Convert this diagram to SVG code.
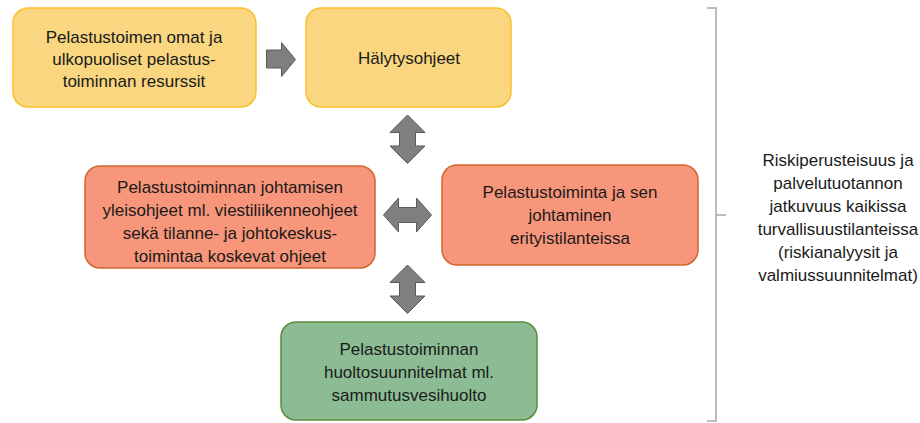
<svg xmlns="http://www.w3.org/2000/svg" width="920" height="423" viewBox="0 0 920 423">
<style>
text{font-family:"Liberation Sans",Arial,sans-serif;font-size:17px;fill:#1a1a1a;text-anchor:middle}
.y{fill:#F9D67F;stroke:#FBC02D;stroke-width:1.5}
.o{fill:#F7967A;stroke:#D0672E;stroke-width:1.5}
.g{fill:#8CBC94;stroke:#5E8A3C;stroke-width:1.5}
.ar{fill:#7F7F7F;stroke:#5A5A5A;stroke-width:1}
.br{fill:none;stroke:#A6A6A6;stroke-width:1.5}
</style>
<rect width="920" height="423" fill="#fff"/>
<g id="n1">
<rect class="y" x="13" y="8" width="243" height="99" rx="15"/>
<text x="134" y="43">Pelastustoimen omat ja</text>
<text x="134" y="65">ulkopuoliset pelastus-</text>
<text x="134" y="87">toiminnan resurssit</text>
</g>
<g id="n2">
<rect class="y" x="306" y="8" width="205" height="99" rx="15"/>
<text x="409" y="64">Hälytysohjeet</text>
</g>
<g id="n3">
<rect class="o" x="85" y="166" width="290" height="102" rx="15"/>
<text x="230" y="193">Pelastustoiminnan johtamisen</text>
<text x="230" y="216">yleisohjeet ml. viestiliikenneohjeet</text>
<text x="230" y="239">sekä tilanne- ja johtokeskus-</text>
<text x="230" y="262">toimintaa koskevat ohjeet</text>
</g>
<g id="n4">
<rect class="o" x="442" y="165" width="256" height="100" rx="15"/>
<text x="570" y="198">Pelastustoiminta ja sen</text>
<text x="570" y="221">johtaminen</text>
<text x="570" y="244">erityistilanteissa</text>
</g>
<g id="n5">
<rect class="g" x="281" y="322" width="256" height="98" rx="15"/>
<text x="409" y="355">Pelastustoiminnan</text>
<text x="409" y="378">huoltosuunnitelmat ml.</text>
<text x="409" y="401">sammutusvesihuolto</text>
</g>
<g id="n6">
<text x="838" y="166">Riskiperusteisuus ja</text>
<text x="838" y="189">palvelutuotannon</text>
<text x="838" y="212">jatkuvuus kaikissa</text>
<text x="838" y="235">turvallisuustilanteissa</text>
<text x="838" y="258">(riskianalyysit ja</text>
<text x="838" y="281">valmiussuunnitelmat)</text>
</g>
<g id="connectors">
<path class="ar" d="M266.5,50 H281.5 V42.5 L295.5,59.5 L281.5,76.5 V68 H266.5 Z"/>
<path class="ar" d="M407.5,115 L425,132.5 H415.5 V146 H425 L407.5,163.5 L390,146 H399.5 V132.5 H390 Z"/>
<path class="ar" d="M383.5,215 L398.5,198 V207.5 H416.5 V198 L431.5,215 L416.5,232 V222.5 H398.5 V232 Z"/>
<path class="ar" d="M407.5,265 L425,282.5 H415.5 V296 H425 L407.5,313.5 L390,296 H399.5 V282.5 H390 Z"/>
<path class="br" d="M707,8 H716 V215 H726 M716,215 V421 H707"/>
</g>
</svg>
